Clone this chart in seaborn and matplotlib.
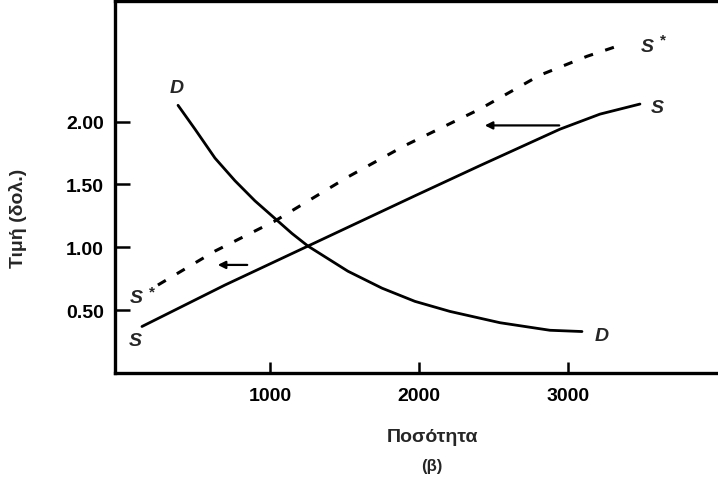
import pandas as pd
import matplotlib
matplotlib.use('Agg')
import matplotlib.pyplot as plt
import seaborn as sns

# supply curve S (before shift)
s_qty = [141, 698, 1255, 1973, 2409, 2946, 3215, 3483]
s_price = [0.37, 0.70, 1.01, 1.41, 1.65, 1.94, 2.06, 2.14]

# shifted supply curve S* (dashed)
s2_qty = [248, 631, 1034, 1523, 1906, 2409, 2812, 3128, 3329]
s2_price = [0.70, 0.97, 1.21, 1.56, 1.81, 2.10, 2.37, 2.52, 2.60]

# demand curve D
d_qty = [383, 497, 631, 765, 899, 1148, 1255, 1523, 1752, 1973, 2208, 2544, 2879, 3094]
d_price = [2.13, 1.94, 1.71, 1.53, 1.37, 1.11, 1.01, 0.81, 0.675, 0.57, 0.49, 0.40, 0.34, 0.33]

x_ticks = [1000, 2000, 3000]
y_ticks = [0.50, 1.00, 1.50, 2.00]

# axis + tick styling through rc instead of per-spine calls
sns.set_style("ticks", {
    'axes.edgecolor': 'black',
    'xtick.color': 'black',
    'ytick.color': 'black',
    'xtick.direction': 'in',
    'ytick.direction': 'in',
})
plt.rcParams.update({
    'axes.linewidth': 2.4,
    'xtick.major.size': 8,
    'ytick.major.size': 11,
    'xtick.major.width': 1.8,
    'ytick.major.width': 1.8,
    'xtick.major.pad': 10,
    'ytick.major.pad': 8,
})
plt.rcParams['font.family'] = ['Liberation Sans', 'DejaVu Sans']

df_s = pd.DataFrame({'q': s_qty, 'p': s_price})
df_s2 = pd.DataFrame({'q': s2_qty, 'p': s2_price})
df_d = pd.DataFrame({'q': d_qty, 'p': d_price})

fig = plt.figure(figsize=(7.18, 4.81), dpi=100)
# right edge runs past the canvas, so no right spine shows
ax = fig.add_axes([115/718, 107/481, 613/718, 372/481])

sns.lineplot(data=df_s, x='q', y='p', color='black', lw=2.0, ax=ax)
sns.lineplot(data=df_d, x='q', y='p', color='black', lw=2.0, ax=ax)
sns.lineplot(data=df_s2, x='q', y='p', color='black', lw=2.2, ax=ax,
             dashes=False, linestyle=(0, (3.0, 4.2)))

ax.set_xlim(-40, 4074)
ax.set_ylim(0, 2.96)
ax.set_xticks(x_ticks)
ax.set_yticks(y_ticks)
ax.set_xticklabels([str(v) for v in x_ticks], fontsize=14, fontweight='bold')
ax.set_yticklabels(['%.2f' % v for v in y_ticks], fontsize=14, fontweight='bold')
ax.set_xlabel('')
ax.set_ylabel('')

# curve labels
lab = dict(fontsize=14, fontstyle='italic', fontweight='bold', ha='center', va='center')
ax.text(376, 2.27, 'D', **lab)
ax.text(3228, 0.30, 'D', **lab)
ax.text(3600, 2.11, 'S', **lab)
ax.text(94, 0.26, 'S', **lab)
ax.text(3530, 2.60, 'S', **lab)
ax.text(3640, 2.65, '*', fontsize=11, fontweight='bold', ha='center', va='center')
ax.text(100, 0.60, 'S', **lab)
ax.text(210, 0.65, '*', fontsize=11, fontweight='bold', ha='center', va='center')

# shift arrows
arr = dict(arrowstyle='-|>', color='black', lw=1.6, mutation_scale=11)
ax.annotate('', xy=(2423, 1.97), xytext=(2960, 1.97), arrowprops=arr)
ax.annotate('', xy=(631, 0.86), xytext=(866, 0.86), arrowprops=arr)

fig.text(18/718, 1 - 218/481, 'Τιμή (δολ.)', rotation=90, fontsize=14,
         fontweight='bold', ha='center', va='center')
fig.text(432/718, 1 - 438/481, 'Ποσότητα', fontsize=14, fontweight='bold',
         ha='center', va='center')
fig.text(432/718, 1 - 467/481, '(β)', fontsize=12, fontweight='bold',
         ha='center', va='center')

plt.savefig('out.png', dpi=100)
